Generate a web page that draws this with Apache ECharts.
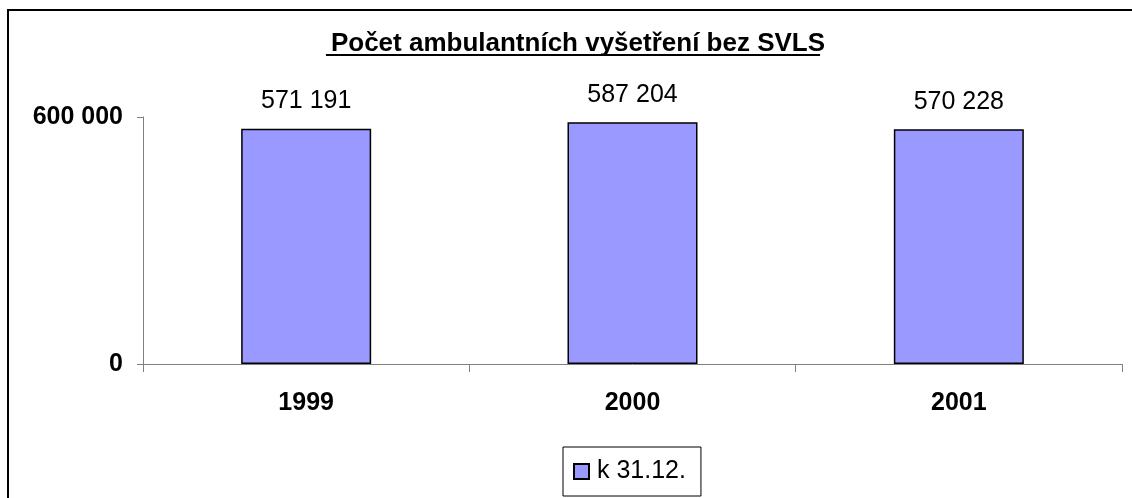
<!DOCTYPE html>
<html>
<head>
<meta charset="utf-8">
<script src="https://cdn.jsdelivr.net/npm/echarts@6/dist/echarts.min.js"></script>
<style>
  html, body { margin: 0; padding: 0; background: #fff; }
  #chart { width: 1132px; height: 498px; }
</style>
</head>
<body>
<div id="chart"></div>
<script>
const years = ['1999', '2000', '2001']
const values = [571191, 587204, 570228]
const seriesName = 'k 31.12.'
const titleText = 'Počet ambulantních vyšetření bez SVLS'

const font = '"Liberation Sans", Arial, sans-serif'
const fmt = v => String(v).replace(/\B(?=(\d{3})+(?!\d))/g, ' ')

// title underline width from the real text
const titleSize = 26
const ctx = document.createElement('canvas').getContext('2d')
ctx.font = 'bold ' + titleSize + 'px "Liberation Sans"'
const titleW = ctx.measureText(titleText).width
const titleCx = 573

const chart = echarts.init(document.getElementById('chart'))

chart.setOption({
  animation: false,
  title: {
    text: titleText,
    left: titleCx,
    top: 26,
    textAlign: 'center',
    textStyle: { fontFamily: font, fontSize: titleSize, fontWeight: 'bold', color: '#000' }
  },
  graphic: [
    {
      type: 'rect',
      shape: { x: 8, y: 10, width: 1300, height: 700 },
      style: { fill: 'none', stroke: '#000', lineWidth: 2 },
      silent: true
    },
    {
      type: 'line',
      shape: { x1: titleCx - titleW / 2, y1: 55, x2: titleCx + titleW / 2, y2: 55 },
      style: { stroke: '#000', lineWidth: 2 },
      silent: true
    }
  ],
  legend: {
    left: 563,
    top: 447,
    itemWidth: 15,
    itemHeight: 15,
    padding: [12, 15, 12, 10],
    borderColor: '#000',
    borderWidth: 1,
    icon: 'rect',
    textStyle: { fontFamily: font, fontSize: 25, color: '#000', padding: [0, 0, 0, 3] },
    data: [seriesName]
  },
  grid: { left: 143, right: 10, top: 117, bottom: 134 },
  xAxis: {
    type: 'category',
    data: years,
    axisLine: { lineStyle: { color: '#808080', width: 1 } },
    axisTick: { show: true, length: 8, interval: 0, lineStyle: { color: '#808080' } },
    axisLabel: { margin: 27, fontFamily: font, fontSize: 25, fontWeight: 'bold', color: '#000' }
  },
  yAxis: {
    type: 'value',
    min: 0,
    max: 600000,
    interval: 600000,
    splitLine: { show: false },
    axisLine: { show: true, lineStyle: { color: '#808080', width: 1 } },
    axisTick: { show: true, length: 6, lineStyle: { color: '#808080' } },
    axisLabel: { margin: 20, fontFamily: font, fontSize: 25, fontWeight: 'bold', color: '#000', formatter: fmt }
  },
  series: [{
    name: seriesName,
    type: 'bar',
    data: values,
    barWidth: 130,
    itemStyle: { color: '#9999FF', borderColor: '#000', borderWidth: 1.5 },
    label: {
      show: true,
      position: 'top',
      distance: 15,
      fontFamily: font,
      fontSize: 25,
      color: '#000',
      formatter: p => fmt(p.value)
    }
  }]
})
</script>
</body>
</html>
